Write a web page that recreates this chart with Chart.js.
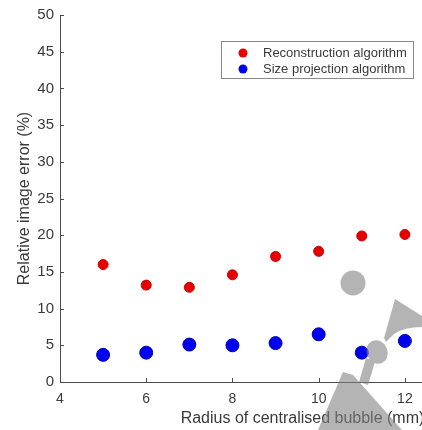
<!DOCTYPE html>
<html>
<head>
<meta charset="utf-8">
<script src="https://cdn.jsdelivr.net/npm/chart.js@4/dist/chart.umd.min.js"></script>
<style>
    html, body { margin: 0; padding: 0; background: #fff; overflow: hidden; }
    #wrap { width: 422px; height: 430px; overflow: hidden; position: relative; }
    canvas { display: block; }
</style>
</head>
<body>
<div id="wrap">
    <canvas id="bubbleChart" width="560" height="430"></canvas>
</div>
<script>
    // bubble radius (mm) and relative error (%) per method
    const radii = [5, 6, 7, 8, 9, 10, 11, 12];
    const reconstructionErr = [16.0, 13.2, 12.9, 14.6, 17.1, 17.8, 19.9, 20.1];
    const projectionErr = [3.7, 4.0, 5.1, 5.0, 5.3, 6.5, 4.0, 5.6];
    const seriesNames = ["Reconstruction algorithm", "Size projection algorithm"];
    const xTicks = [4, 6, 8, 10, 12, 14];
    const yTicks = [0, 5, 10, 15, 20, 25, 30, 35, 40, 45, 50];

    const textColor = "#3a3a3a";
    const axisColor = "#4a4a4a";
    const fontFamily = "'Liberation Sans', Arial, sans-serif";

    const toPoints = (xs, ys) => xs.map((x, i) => ({ x, y: ys[i] }));

    // inward tick marks, matlab style
    const innerTicks = {
        id: "innerTicks",
        afterDatasetsDraw(chart) {
            const { ctx, chartArea, scales } = chart;
            ctx.save();
            ctx.strokeStyle = axisColor;
            ctx.lineWidth = 1;
            ctx.beginPath();
            scales.x.ticks.forEach(t => {
                const px = Math.round(scales.x.getPixelForValue(t.value)) + 0.5;
                ctx.moveTo(px, chartArea.bottom);
                ctx.lineTo(px, chartArea.bottom - 4);
            });
            scales.y.ticks.forEach(t => {
                const py = Math.round(scales.y.getPixelForValue(t.value)) + 0.5;
                ctx.moveTo(chartArea.left, py);
                ctx.lineTo(chartArea.left + 4, py);
            });
            ctx.stroke();
            ctx.restore();
        }
    };

    // boxed legend inside the axes
    const boxLegend = {
        id: "boxLegend",
        afterDatasetsDraw(chart) {
            const { ctx } = chart;
            const x0 = 221, y0 = 41, w = 192, h = 37;
            ctx.save();
            ctx.fillStyle = "#fff";
            ctx.fillRect(x0, y0, w, h);
            ctx.strokeStyle = "#8a8a8a";
            ctx.lineWidth = 1;
            ctx.strokeRect(x0 + 0.5, y0 + 0.5, w, h);
            ctx.font = "13px " + fontFamily;
            ctx.textBaseline = "middle";
            chart.data.datasets.forEach((ds, i) => {
                const cy = y0 + 12 + i * 16;
                ctx.beginPath();
                ctx.arc(x0 + 22, cy, 4.5, 0, Math.PI * 2);
                ctx.fillStyle = ds.backgroundColor;
                ctx.fill();
                ctx.fillStyle = textColor;
                ctx.fillText(ds.label, x0 + 42, cy);
            });
            ctx.restore();
        }
    };

    // grey figure logo stamped over the lower right
    const stamp = {
        id: "stamp",
        afterDraw(chart) {
            const { ctx } = chart;
            ctx.save();
            ctx.fillStyle = "rgba(130,130,130,0.6)";
            ctx.beginPath();
            ctx.arc(353, 283, 12.5, 0, Math.PI * 2);
            ctx.fill();

            ctx.beginPath();
            ctx.moveTo(395, 299);
            ctx.lineTo(422, 316);
            ctx.lineTo(422, 327);
            ctx.quadraticCurveTo(404, 327, 394, 334);
            ctx.lineTo(386, 342);
            ctx.lineTo(384, 338);
            ctx.closePath();
            ctx.fill();

            ctx.beginPath();
            ctx.ellipse(377, 352, 10.5, 12, -0.4, 0, Math.PI * 2);
            ctx.moveTo(366, 358);
            ctx.lineTo(375, 362);
            ctx.lineTo(368, 385);
            ctx.lineTo(359, 382);
            ctx.closePath();
            ctx.fill();

            ctx.beginPath();
            ctx.moveTo(343, 372);
            ctx.lineTo(353, 375);
            ctx.lineTo(402, 430);
            ctx.lineTo(318, 430);
            ctx.closePath();
            ctx.fill();
            ctx.restore();
        }
    };

    new Chart(document.getElementById("bubbleChart"), {
        type: "scatter",
        data: {
            datasets: [
                {
                    label: seriesNames[0],
                    data: toPoints(radii, reconstructionErr),
                    backgroundColor: "#e80000",
                    borderColor: "#c80000",
                    borderWidth: 1,
                    pointRadius: 5
                },
                {
                    label: seriesNames[1],
                    data: toPoints(radii, projectionErr),
                    backgroundColor: "#0000f0",
                    borderColor: "#0000b0",
                    borderWidth: 1,
                    pointRadius: 6.5
                }
            ]
        },
        options: {
            responsive: false,
            animation: false,
            layout: { padding: { left: 0, top: 13, right: 15, bottom: 0 } },
            plugins: {
                legend: { display: false },
                tooltip: { enabled: false }
            },
            scales: {
                x: {
                    type: "linear",
                    min: 4,
                    max: 15.25,
                    afterBuildTicks: s => { s.ticks = xTicks.map(v => ({ value: v })); },
                    afterFit: s => { s.height = 48; },
                    grid: { display: false, drawTicks: false },
                    border: { display: true, color: axisColor, width: 1 },
                    ticks: {
                        color: textColor,
                        font: { family: fontFamily, size: 14 },
                        padding: 9,
                        maxRotation: 0
                    },
                    title: {
                        display: true,
                        text: "Radius of centralised bubble (mm)",
                        color: textColor,
                        font: { family: fontFamily, size: 16 },
                        padding: { top: 0, bottom: 2 }
                    }
                },
                y: {
                    type: "linear",
                    min: 0,
                    max: 50,
                    afterBuildTicks: s => { s.ticks = yTicks.map(v => ({ value: v })); },
                    afterFit: s => { s.width = 60; },
                    grid: { display: false, drawTicks: false },
                    border: { display: true, color: axisColor, width: 1 },
                    ticks: {
                        color: textColor,
                        font: { family: fontFamily, size: 15 },
                        padding: 6
                    },
                    title: {
                        display: true,
                        text: "Relative image error (%)",
                        color: textColor,
                        font: { family: fontFamily, size: 16 },
                        padding: { top: 15, bottom: 0 }
                    }
                }
            }
        },
        plugins: [innerTicks, boxLegend, stamp]
    });
</script>
</body>
</html>
